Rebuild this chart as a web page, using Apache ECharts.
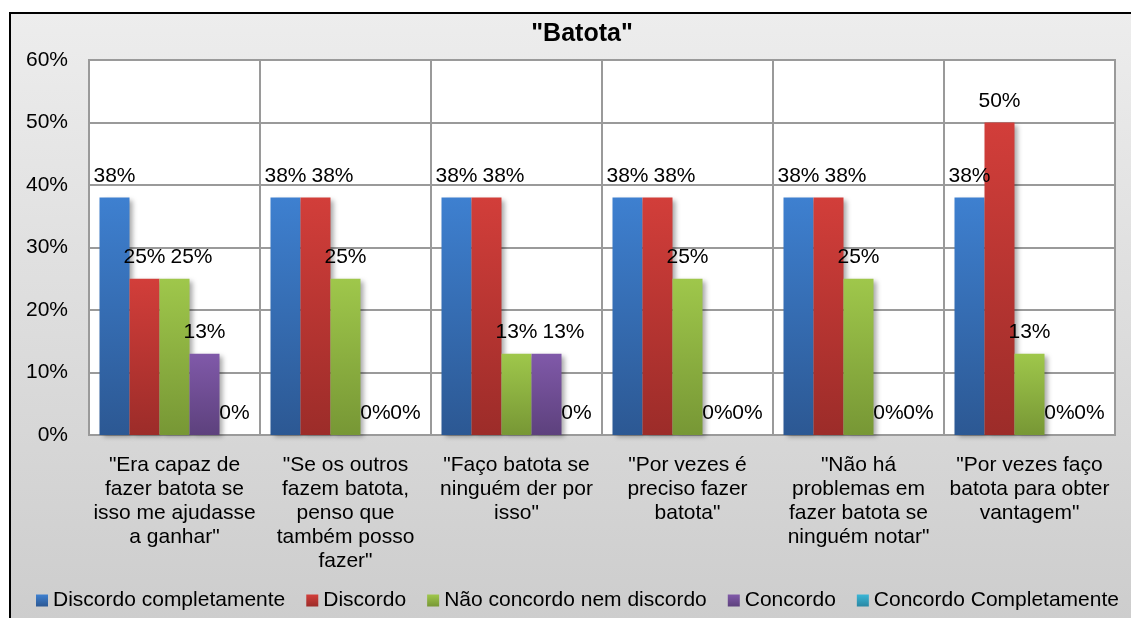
<!DOCTYPE html>
<html>
<head>
<meta charset="utf-8">
<title>"Batota"</title>
<script src="https://cdn.jsdelivr.net/npm/echarts@6/dist/echarts.min.js"></script>
<style>
  html, body { margin: 0; padding: 0; background: #fff; }
  #chart { width: 1131px; height: 618px; }
</style>
</head>
<body>
<div id="chart"></div>
<script>
// Survey answers on cheating ("batota"), share of respondents per statement
const chartTitle = '"Batota"';

const categories = [
  '"Era capaz de\nfazer batota se\nisso me ajudasse\na ganhar"',
  '"Se os outros\nfazem batota,\npenso que\ntambém posso\nfazer"',
  '"Faço batota se\nninguém der por\nisso"',
  '"Por vezes é\npreciso fazer\nbatota"',
  '"Não há\nproblemas em\nfazer batota se\nninguém notar"',
  '"Por vezes faço\nbatota para obter\nvantagem"'
];

const seriesNames = [
  'Discordo completamente',
  'Discordo',
  'Não concordo nem discordo',
  'Concordo',
  'Concordo Completamente'
];

const discordoCompletamente = [38, 38, 38, 38, 38, 38];
const discordo = [25, 38, 38, 38, 38, 50];
const naoConcordoNemDiscordo = [25, 25, 13, 25, 25, 13];
const concordo = [13, 0, 13, 0, 0, 0];
const concordoCompletamente = [0, 0, 0, 0, 0, 0];

const yMin = 0, yMax = 60, yStep = 10;

const seriesValues = [discordoCompletamente, discordo, naoConcordoNemDiscordo, concordo, concordoCompletamente];

// top / bottom colours of each bar's vertical gradient
const palette = [
  ['#3e80d0', '#2c5893'],
  ['#d23e3a', '#9c2c29'],
  ['#9fc74b', '#779735'],
  ['#8059a9', '#5d417d'],
  ['#3ab6d6', '#2a87a3']
];

const FONT = '"Liberation Sans", Arial, sans-serif';
const TEXT_SIZE = 21;
const BAR_W = 30;

function grad(c) {
  return new echarts.graphic.LinearGradient(0, 0, 0, 1, [
    { offset: 0, color: c[0] },
    { offset: 1, color: c[1] }
  ]);
}

const chart = echarts.init(document.getElementById('chart'), null, { renderer: 'canvas' });

const series = seriesValues.map((vals, si) => ({
  name: seriesNames[si],
  type: 'bar',
  data: vals,
  barWidth: BAR_W,
  barGap: '0%',
  itemStyle: {
    color: grad(palette[si]),
    shadowColor: 'rgba(0,0,0,0.35)',
    shadowBlur: 5,
    shadowOffsetX: 3,
    shadowOffsetY: 2
  },
  label: {
    show: true,
    position: 'top',
    distance: 11,
    formatter: '{c}%',
    fontFamily: FONT,
    fontSize: TEXT_SIZE,
    color: '#000'
  },
  // when a neighbouring bar has the same value and its label is wider than the bar,
  // the two labels would collide: nudge this one right
  labelLayout: function (p) {
    if (p.seriesIndex === 0) return {};
    const prev = seriesValues[p.seriesIndex - 1][p.dataIndex];
    const cur = seriesValues[p.seriesIndex][p.dataIndex];
    const overlap = p.labelRect.width - p.rect.width;
    if (prev === cur && overlap > 3) {
      return { dx: overlap + 5 };
    }
    return {};
  }
}));

chart.setOption({
  animation: false,
  textStyle: { fontFamily: FONT },
  graphic: [
    {
      type: 'rect',
      z: -100,
      shape: { x: 10, y: 13, width: 1200, height: 700 },
      style: {
        fill: new echarts.graphic.LinearGradient(0, 0, 0, 1, [
          { offset: 0, color: '#ededed' },
          { offset: 1, color: '#c8c8c8' }
        ]),
        stroke: '#000',
        lineWidth: 2
      }
    }
  ],
  title: {
    text: chartTitle,
    left: 577,
    textAlign: 'center',
    top: 17,
    textStyle: { fontFamily: FONT, fontSize: 25, fontWeight: 'bold', color: '#000' }
  },
  legend: {
    data: seriesNames,
    left: 36,
    top: 590,
    padding: 0,
    icon: 'rect',
    itemWidth: 12,
    itemHeight: 12,
    itemGap: 21,
    textStyle: { fontFamily: FONT, fontSize: TEXT_SIZE, color: '#000' }
  },
  grid: {
    left: 89,
    right: 16,
    top: 60,
    bottom: 183,
    show: true,
    backgroundColor: '#fff',
    borderColor: '#9a9a9a',
    borderWidth: 2
  },
  xAxis: {
    type: 'category',
    data: categories,
    axisLine: { show: true, lineStyle: { color: '#9a9a9a', width: 2 } },
    axisTick: { show: false },
    splitLine: { show: true, lineStyle: { color: '#9a9a9a', width: 2 } },
    axisLabel: {
      interval: 0,
      margin: 18,
      fontFamily: FONT,
      fontSize: TEXT_SIZE,
      lineHeight: 24,
      color: '#000',
      align: 'center'
    }
  },
  yAxis: {
    type: 'value',
    min: yMin,
    max: yMax,
    interval: yStep,
    axisLine: { show: false },
    axisTick: { show: false },
    splitLine: { show: true, lineStyle: { color: '#9a9a9a', width: 2 } },
    axisLabel: {
      formatter: '{value}%',
      margin: 21,
      fontFamily: FONT,
      fontSize: TEXT_SIZE,
      color: '#000'
    }
  },
  series: series
});
</script>
</body>
</html>
